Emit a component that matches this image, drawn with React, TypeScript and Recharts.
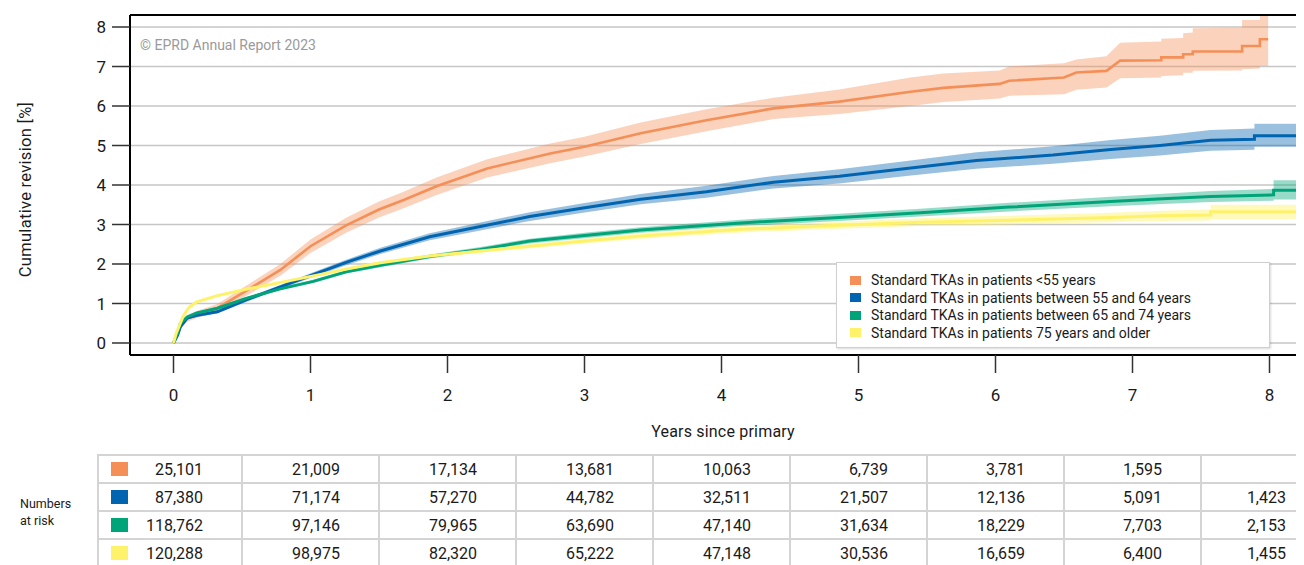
import React from "react";
import {
  ComposedChart,
  Area,
  Line,
  XAxis,
  YAxis,
  CartesianGrid,
  ReferenceLine,
} from "recharts";

const FONT = "Roboto, 'DejaVu Sans', sans-serif";

const YEAR_TICKS = [0, 1, 2, 3, 4, 5, 6, 7, 8];
const PCT_TICKS = [0, 1, 2, 3, 4, 5, 6, 7, 8];

const GROUPS = [
  "Standard TKAs in patients <55 years",
  "Standard TKAs in patients between 55 and 64 years",
  "Standard TKAs in patients between 65 and 74 years",
  "Standard TKAs in patients 75 years and older",
];
const COLORS = ["#F58F58", "#0064B0", "#00A479", "#FFF26B"];

// <55 years
const u55T = [0, 0.03, 0.06, 0.1, 0.17, 0.32, 0.53, 0.78, 1.0, 1.26, 1.5, 1.68, 1.92, 2.29, 2.75, 3.0, 3.41, 3.89, 4.38, 4.86, 5.38, 5.62, 6.03, 6.1, 6.5, 6.59, 6.81, 6.91, 7.21, 7.21, 7.37, 7.37, 7.44, 7.44, 7.8, 7.8, 7.93, 7.93, 7.99];
const u55Est = [0, 0.25, 0.48, 0.62, 0.72, 0.88, 1.32, 1.85, 2.45, 2.98, 3.38, 3.62, 3.97, 4.42, 4.8, 4.97, 5.31, 5.64, 5.94, 6.11, 6.36, 6.46, 6.56, 6.64, 6.72, 6.85, 6.89, 7.15, 7.16, 7.23, 7.23, 7.31, 7.31, 7.38, 7.38, 7.52, 7.52, 7.69, 7.69];
const u55Lo = [0, 0.18, 0.4, 0.54, 0.63, 0.77, 1.19, 1.7, 2.28, 2.79, 3.18, 3.41, 3.75, 4.19, 4.55, 4.72, 5.04, 5.36, 5.67, 5.8, 6.0, 6.1, 6.19, 6.26, 6.3, 6.41, 6.47, 6.7, 6.72, 6.76, 6.78, 6.84, 6.84, 6.89, 6.9, 6.93, 6.95, 7.01, 7.01];
const u55Hi = [0, 0.32, 0.56, 0.7, 0.81, 0.99, 1.45, 2.0, 2.62, 3.17, 3.58, 3.83, 4.19, 4.65, 5.05, 5.22, 5.58, 5.92, 6.21, 6.42, 6.72, 6.82, 6.9, 7.0, 7.08, 7.18, 7.26, 7.6, 7.63, 7.7, 7.72, 7.84, 7.86, 7.97, 7.98, 8.18, 8.18, 8.6, 8.6];

// 55-64 years
const m55T = [0, 0.03, 0.05, 0.1, 0.17, 0.32, 0.53, 0.78, 1.02, 1.26, 1.51, 1.87, 2.24, 2.6, 2.99, 3.41, 3.89, 4.38, 4.86, 5.35, 5.86, 6.42, 6.84, 7.2, 7.57, 7.89, 7.89, 8.5];
const m55Est = [0, 0.2, 0.41, 0.63, 0.7, 0.79, 1.09, 1.42, 1.73, 2.04, 2.33, 2.69, 2.95, 3.2, 3.42, 3.64, 3.83, 4.07, 4.22, 4.42, 4.62, 4.76, 4.9, 5.0, 5.13, 5.16, 5.25, 5.25];
const m55Lo = [0, 0.18, 0.38, 0.6, 0.66, 0.75, 1.04, 1.37, 1.67, 1.97, 2.25, 2.6, 2.85, 3.09, 3.3, 3.51, 3.68, 3.91, 4.04, 4.23, 4.41, 4.54, 4.66, 4.75, 4.87, 4.89, 4.97, 4.97];
const m55Hi = [0, 0.22, 0.44, 0.66, 0.74, 0.83, 1.14, 1.47, 1.79, 2.11, 2.41, 2.78, 3.05, 3.31, 3.54, 3.77, 3.98, 4.23, 4.4, 4.61, 4.83, 4.98, 5.14, 5.25, 5.39, 5.43, 5.55, 5.55];

// 65-74 years
const m65T = [0, 0.03, 0.05, 0.1, 0.17, 0.32, 0.53, 0.78, 1.02, 1.26, 1.51, 1.87, 2.24, 2.6, 3.0, 3.41, 4.14, 4.86, 5.45, 6.1, 6.84, 7.22, 7.57, 8.03, 8.03, 8.5];
const m65Est = [0, 0.25, 0.5, 0.66, 0.76, 0.88, 1.13, 1.37, 1.56, 1.8, 1.97, 2.19, 2.37, 2.58, 2.72, 2.86, 3.04, 3.18, 3.3, 3.44, 3.58, 3.65, 3.71, 3.75, 3.87, 3.87];
const m65Lo = [0, 0.23, 0.47, 0.63, 0.73, 0.85, 1.1, 1.34, 1.52, 1.76, 1.92, 2.14, 2.31, 2.52, 2.65, 2.79, 2.96, 3.09, 3.2, 3.33, 3.46, 3.52, 3.57, 3.6, 3.63, 3.63];
const m65Hi = [0, 0.27, 0.53, 0.69, 0.79, 0.91, 1.16, 1.4, 1.6, 1.84, 2.02, 2.24, 2.43, 2.64, 2.79, 2.93, 3.12, 3.27, 3.4, 3.55, 3.7, 3.78, 3.85, 3.9, 4.12, 4.12];

// 75 years and older
const o75T = [0, 0.02, 0.05, 0.07, 0.1, 0.12, 0.17, 0.32, 0.53, 0.78, 1.02, 1.26, 1.51, 1.87, 2.24, 2.6, 3.0, 3.41, 4.14, 4.86, 5.45, 6.1, 6.84, 7.2, 7.57, 7.57, 8.5];
const o75Est = [0, 0.25, 0.5, 0.67, 0.84, 0.92, 1.04, 1.2, 1.36, 1.53, 1.7, 1.87, 2.03, 2.2, 2.33, 2.45, 2.58, 2.71, 2.88, 2.98, 3.06, 3.11, 3.18, 3.22, 3.24, 3.32, 3.32];
const o75Lo = [0, 0.23, 0.47, 0.64, 0.81, 0.89, 1.01, 1.17, 1.33, 1.5, 1.67, 1.83, 1.99, 2.16, 2.28, 2.4, 2.52, 2.64, 2.8, 2.89, 2.96, 3.0, 3.06, 3.09, 3.1, 3.14, 3.14];
const o75Hi = [0, 0.27, 0.53, 0.7, 0.87, 0.95, 1.07, 1.23, 1.39, 1.56, 1.73, 1.91, 2.07, 2.24, 2.38, 2.5, 2.64, 2.78, 2.96, 3.07, 3.16, 3.22, 3.3, 3.35, 3.38, 3.5, 3.5];

// numbers at risk per year 0..8
const riskU55 = ["25,101", "21,009", "17,134", "13,681", "10,063", "6,739", "3,781", "1,595", ""];
const riskM55 = ["87,380", "71,174", "57,270", "44,782", "32,511", "21,507", "12,136", "5,091", "1,423"];
const riskM65 = ["118,762", "97,146", "79,965", "63,690", "47,140", "31,634", "18,229", "7,703", "2,153"];
const riskO75 = ["120,288", "98,975", "82,320", "65,222", "47,148", "30,536", "16,659", "6,400", "1,455"];

const build = (t: number[], est: number[], lo: number[], hi: number[]) =>
  t.map((x, i) => ({ t: x, est: est[i], band: [lo[i], hi[i]] }));

const SERIES = [
  build(u55T, u55Est, u55Lo, u55Hi),
  build(m55T, m55Est, m55Lo, m55Hi),
  build(m65T, m65Est, m65Lo, m65Hi),
  build(o75T, o75Est, o75Lo, o75Hi),
];
const RISK = [riskU55, riskM55, riskM65, riskO75];

const COL_WIDTHS = [144, 137, 137, 137, 137, 137, 137, 137, 124];
const TABLE_W = COL_WIDTHS.reduce((a, b) => a + b, 0);

export default function App() {
  return (
    <div
      style={{
        position: "relative",
        width: 1330,
        height: 557,
        overflow: "hidden",
        fontFamily: FONT,
        color: "#1a1a1a",
      }}
    >
      <style>{"html,body{overflow:hidden}"}</style>
      <ComposedChart
        width={1400}
        height={420}
        margin={{ top: 7, right: 70, left: 0, bottom: 13 }}
      >
        <CartesianGrid vertical={false} stroke="#c6c6c6" strokeWidth={1.3} />
        <XAxis
          type="number"
          dataKey="t"
          domain={[-0.3175, 8.5]}
          ticks={YEAR_TICKS}
          allowDataOverflow
          height={60}
          tickSize={18}
          tickMargin={16}
          axisLine={{ stroke: "#000", strokeWidth: 2 }}
          tickLine={{ stroke: "#333", strokeWidth: 1.5 }}
          tick={{ fill: "#1a1a1a", fontSize: 17, fontFamily: FONT }}
        />
        <YAxis
          type="number"
          domain={[-0.304, 8.304]}
          ticks={PCT_TICKS}
          allowDataOverflow
          width={122}
          tickSize={18}
          tickMargin={6}
          axisLine={{ stroke: "#000", strokeWidth: 2 }}
          tickLine={{ stroke: "#333", strokeWidth: 1.5 }}
          tick={{ fill: "#1a1a1a", fontSize: 17, fontFamily: FONT }}
        />
        <ReferenceLine y={8.304} stroke="#000" strokeWidth={2} />
        {SERIES.map((d, i) => (
          <Area
            key={`band-${i}`}
            data={d}
            dataKey="band"
            type="linear"
            stroke="none"
            fill={COLORS[i]}
            fillOpacity={i === 3 ? 0.45 : 0.4}
            isAnimationActive={false}
            activeDot={false}
          />
        ))}
        {SERIES.map((d, i) => (
          <Line
            key={`line-${i}`}
            data={d}
            dataKey="est"
            type="linear"
            stroke={COLORS[i]}
            strokeWidth={i === 0 ? 2.6 : 3}
            dot={false}
            activeDot={false}
            isAnimationActive={false}
          />
        ))}
      </ComposedChart>

      <div
        style={{
          position: "absolute",
          left: 132,
          top: 29.5,
          fontSize: 14,
          lineHeight: 1,
          color: "#9a9a9a",
          whiteSpace: "nowrap",
        }}
      >
        © EPRD Annual Report 2023
      </div>

      <div
        style={{
          position: "absolute",
          left: -132,
          top: 173,
          width: 300,
          height: 17,
          fontSize: 16.5,
          lineHeight: 1,
          textAlign: "center",
          transform: "rotate(-90deg)",
          whiteSpace: "nowrap",
          letterSpacing: 0.3,
        }}
      >
        Cumulative revision [%]
      </div>

      <div
        style={{
          position: "absolute",
          left: 565,
          top: 415.6,
          width: 300,
          fontSize: 16,
          lineHeight: 1,
          textAlign: "center",
          whiteSpace: "nowrap",
          letterSpacing: 0.2,
        }}
      >
        Years since primary
      </div>

      <div
        style={{
          position: "absolute",
          left: 828,
          top: 254,
          width: 432,
          height: 84,
          background: "#fff",
          border: "1px solid #cfcfcf",
          boxShadow: "1px 1px 2px rgba(0,0,0,0.15)",
        }}
      >
        {GROUPS.map((g, i) => (
          <div
            key={g}
            style={{
              position: "absolute",
              left: 13,
              top: 9 + i * 17.5,
              height: 16,
              display: "flex",
              alignItems: "center",
              fontSize: 14,
              whiteSpace: "nowrap",
            }}
          >
            <span
              style={{
                display: "inline-block",
                width: 11,
                height: 9,
                background: COLORS[i],
                marginRight: 10,
              }}
            />
            {g}
          </div>
        ))}
      </div>

      <div
        style={{
          position: "absolute",
          left: 12,
          top: 487,
          fontSize: 12.5,
          lineHeight: "17px",
        }}
      >
        Numbers
        <br />
        at risk
      </div>

      <table
        style={{
          position: "absolute",
          left: 89,
          top: 446,
          width: TABLE_W,
          borderCollapse: "collapse",
          tableLayout: "fixed",
          fontSize: 16,
        }}
      >
        <colgroup>
          {COL_WIDTHS.map((w, i) => (
            <col key={i} style={{ width: w }} />
          ))}
        </colgroup>
        <tbody>
          {RISK.map((row, r) => (
            <tr key={r} style={{ height: 28 }}>
              {row.map((v, c) => (
                <td
                  key={c}
                  style={{
                    border: "2px solid #d4d4d4",
                    padding: "0 38px 0 0",
                    textAlign: "right",
                    position: "relative",
                    whiteSpace: "nowrap",
                  }}
                >
                  {c === 0 && (
                    <span
                      style={{
                        position: "absolute",
                        left: 12,
                        top: 6,
                        width: 17,
                        height: 14,
                        background: COLORS[r],
                      }}
                    />
                  )}
                  {v}
                </td>
              ))}
            </tr>
          ))}
        </tbody>
      </table>
    </div>
  );
}
